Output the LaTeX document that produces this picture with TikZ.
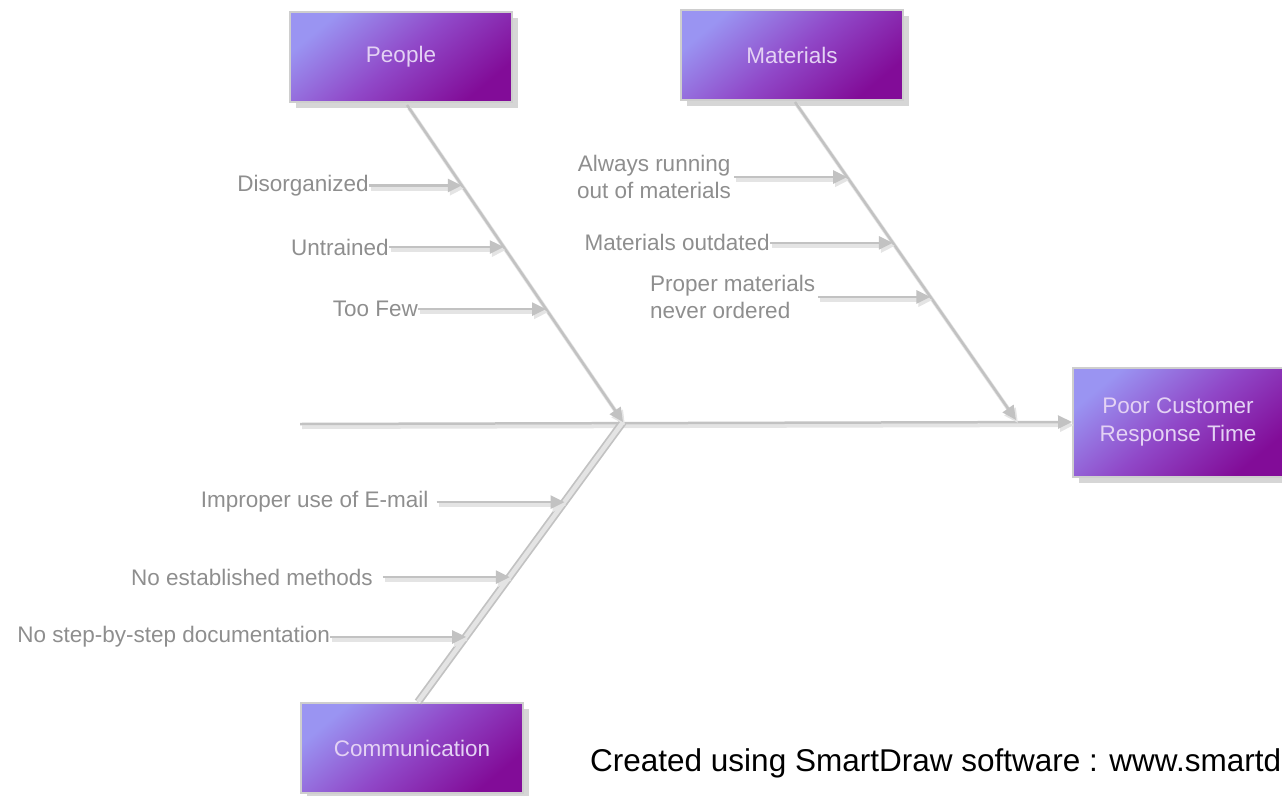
\documentclass[tikz,border=0pt]{standalone}
\usepackage{fontspec}
\setmainfont{Liberation Sans}
\usetikzlibrary{positioning,calc,shadows,arrows.meta}
\definecolor{boneGray}{HTML}{C2C2C2}
\definecolor{shadowGray}{HTML}{E4E4E4}
\definecolor{labelGray}{HTML}{8E8E8E}
\definecolor{boxLight}{HTML}{9A94F2}
\definecolor{boxMid}{HTML}{9048C8}
\definecolor{boxDark}{HTML}{820C98}
\definecolor{boxText}{HTML}{E4D2F4}
\begin{document}
\begin{tikzpicture}[x=1pt,y=-1pt,
  causeBox/.style={rectangle, draw=boneGray!80, line width=2pt, left color=boxLight, right color=boxDark, middle color=boxMid, shading angle=40, minimum width=222pt, minimum height=90pt, font=\fontsize{22.5}{28}\selectfont, text=boxText, align=center, drop shadow={shadow xshift=6pt, shadow yshift=-6pt, fill=black!16, opacity=1}},
  causeLabel/.style={font=\fontsize{22.5}{27}\selectfont, text=labelGray, inner sep=0pt},
  bone/.style={draw=boneGray, line width=2.5pt, -{Triangle[length=14pt,width=13pt]}, preaction={draw=shadowGray, line width=4pt, transform canvas={xshift=2pt,yshift=-3pt}}},
  commBone/.style={draw=shadowGray, line width=4.5pt, preaction={draw=boneGray, line width=8pt}}
]
\clip (0,0) rectangle (1282,795);

\node[causeBox] (people) at (401,57) {People};
\node[causeBox] (materials) at (792,55) {Materials};
\node[causeBox] (communication) at (412,748) {Communication};
\node[causeBox, minimum width=210pt, minimum height=109pt] (effect) at (1178,422) {Poor Customer\\Response Time};

\coordinate (tail) at (300,424);
\coordinate (head) at (623,422);
\coordinate (pplTop) at (407,105);
\coordinate (matTop) at (795,102);
\coordinate (matEnd) at (1016,420);
\coordinate (commTop) at (418,703);

\coordinate (pplA) at ($(pplTop)!0.254!(head)$);
\coordinate (pplB) at ($(pplTop)!0.448!(head)$);
\coordinate (pplC) at ($(pplTop)!0.644!(head)$);
\coordinate (matA) at ($(matTop)!0.236!(matEnd)$);
\coordinate (matB) at ($(matTop)!0.443!(matEnd)$);
\coordinate (matC) at ($(matTop)!0.613!(matEnd)$);
\coordinate (commA) at ($(commTop)!0.715!(head)$);
\coordinate (commB) at ($(commTop)!0.448!(head)$);
\coordinate (commC) at ($(commTop)!0.235!(head)$);

\draw[bone] (tail) -- (effect.west);
\draw[commBone] (communication.north -| commTop) -- (head);
\draw[bone] (pplTop) -- (head);
\draw[bone] (matTop) -- (matEnd);

\node[causeLabel, left=93pt of pplA] (disorganized) {Disorganized};
\node[causeLabel, left=115pt of pplB] (untrained) {Untrained};
\node[causeLabel, left=128pt of pplC] (tooFew) {Too Few};
\draw[bone] (disorganized) -- (pplA);
\draw[bone] (untrained) -- (pplB);
\draw[bone] (tooFew) -- (pplC);

\node[causeLabel, align=center, left=116pt of matA] (alwaysRunning) {Always running\\out of materials};
\node[causeLabel, left=123pt of matB] (outdated) {Materials outdated};
\node[causeLabel, align=left, left=115pt of matC] (neverOrdered) {Proper materials\\never ordered};
\draw[bone] ([xshift=3pt]alwaysRunning.east) -- (matA);
\draw[bone] (outdated) -- (matB);
\draw[bone] ([xshift=3pt]neverOrdered.east) -- (matC);

\node[causeLabel, left=136pt of commA] (improperEmail) {Improper use of E-mail};
\node[causeLabel, left=137pt of commB] (noMethods) {No established methods};
\node[causeLabel, left=136pt of commC] (noDocs) {No step-by-step documentation};
\draw[bone] ([xshift=8pt]improperEmail.east) -- (commA);
\draw[bone] ([xshift=10pt]noMethods.east) -- (commB);
\draw[bone] (noDocs) -- (commC);

\node[anchor=base west, inner sep=0pt, font=\fontsize{31.5}{36}\selectfont] (credit) at (590,771) {Created using SmartDraw software : www.smartdraw.com};
\end{tikzpicture}
\end{document}
